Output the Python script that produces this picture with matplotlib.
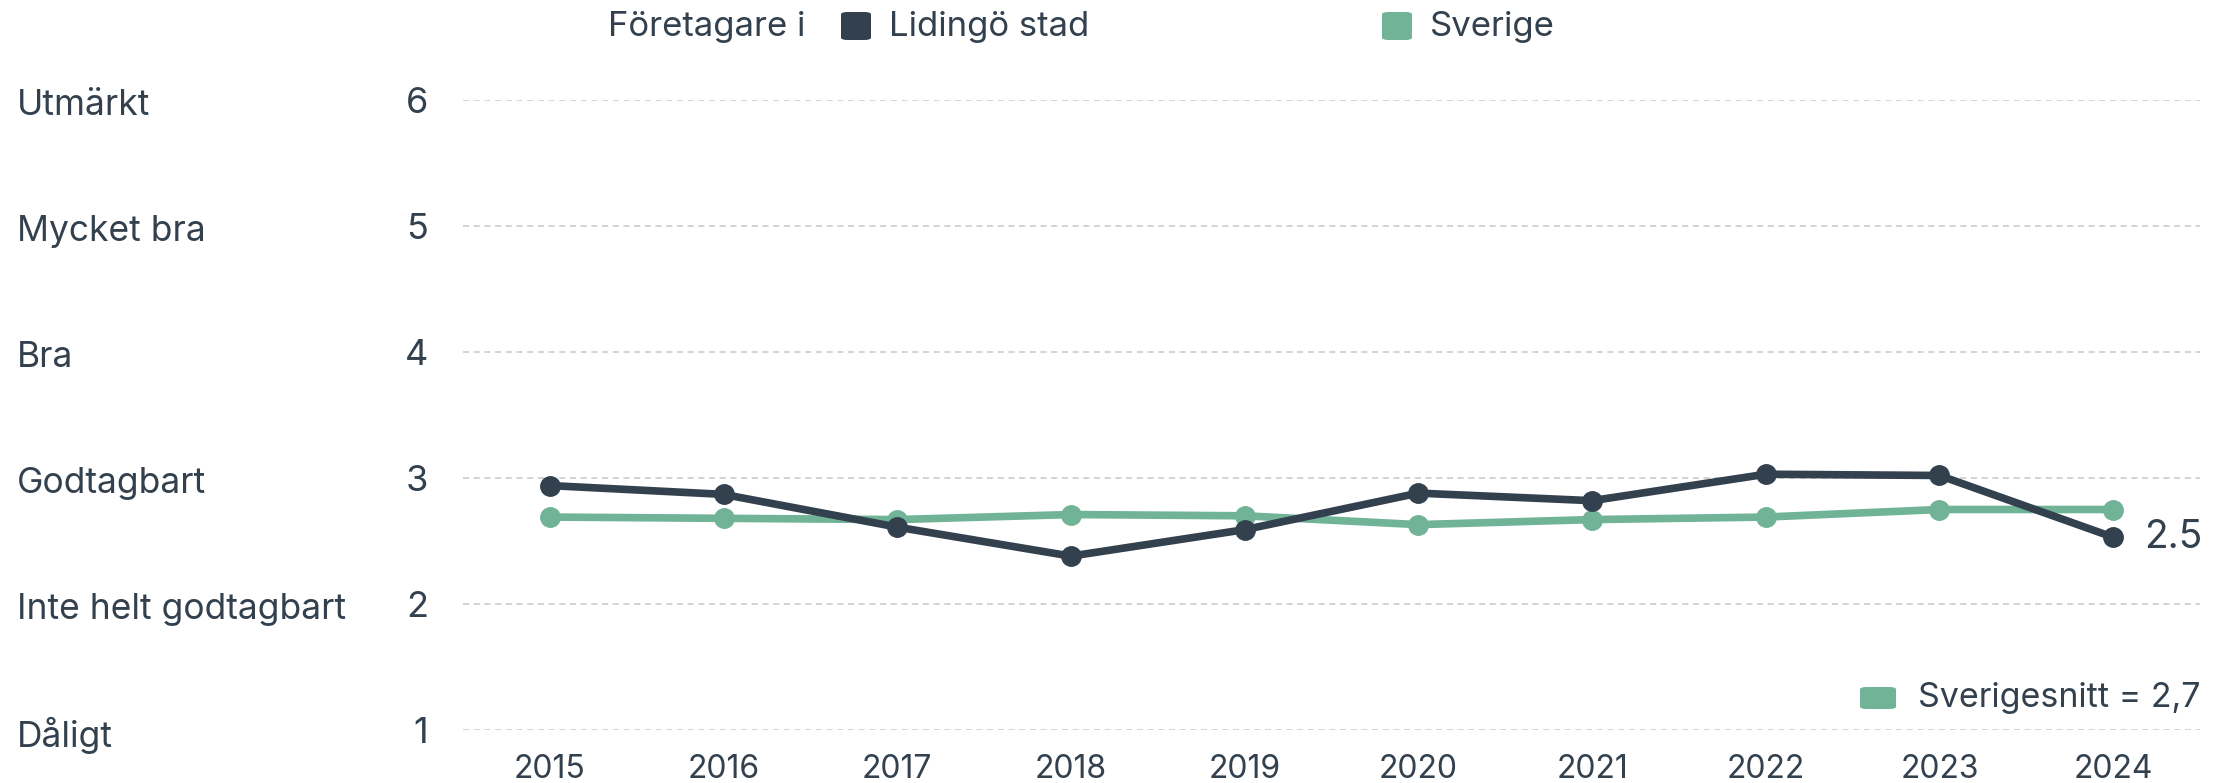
import matplotlib
matplotlib.use('Agg')
import matplotlib.pyplot as plt
from matplotlib.patches import FancyBboxPatch
from matplotlib.transforms import blended_transform_factory

plt.rcParams['font.family'] = ['Inter', 'DejaVu Sans']

years = [2015, 2016, 2017, 2018, 2019, 2020, 2021, 2022, 2023, 2024]
lidingo = [2.94, 2.87, 2.61, 2.38, 2.59, 2.88, 2.82, 3.03, 3.02, 2.53]
sverige = [2.69, 2.68, 2.67, 2.71, 2.70, 2.63, 2.67, 2.69, 2.75, 2.75]
y_ticks = [1, 2, 3, 4, 5, 6]
y_names = ['Dåligt', 'Inte helt godtagbart', 'Godtagbart', 'Bra',
           'Mycket bra', 'Utmärkt']
end_label = '2.5'
avg_label = 'Sverigesnitt = 2,7'

DARK = '#33414f'
GREEN = '#70b396'
TEXT = '#33414f'

W, H = 2227, 783
fig = plt.figure(figsize=(W / 100, H / 100), dpi=100)
ax = fig.add_axes([463 / W, 1 - 730 / H, (2200 - 463) / W, (730 - 100) / H])

ax.plot(years, lidingo, color=DARK, lw=5.5, marker='o', ms=14,
        solid_joinstyle='round', zorder=3, clip_on=False)
ax.plot(years, sverige, color=GREEN, lw=5.5, marker='o', ms=14,
        solid_joinstyle='round', zorder=2, clip_on=False)

ax.set_xlim(2014.5, 2024.5)
ax.set_ylim(1, 6)
ax.set_xticks(years)
ax.set_xticklabels([str(y) for y in years], fontsize=23, color=TEXT)
ax.set_yticks(y_ticks)
ax.set_yticklabels([str(t) for t in y_ticks], fontsize=26, color=TEXT)
ax.tick_params(axis='x', length=0, pad=17)
ax.tick_params(axis='y', length=0, pad=25)
for s in ax.spines.values():
    s.set_visible(False)
ax.grid(axis='y', color='#c8c8c8', lw=1.1, ls=(0, (4, 3)))
ax.set_axisbelow(True)

# category names at far left
lab_tr = blended_transform_factory(fig.transFigure, ax.transData)
for t, name in zip(y_ticks, y_names):
    ax.annotate(name, (17 / W, t), xycoords=lab_tr, xytext=(0, -4),
                textcoords='offset points', fontsize=25.5, color=TEXT,
                ha='left', va='center', annotation_clip=False)

# end value label
ax.annotate(end_label, (years[-1], lidingo[-1]), xytext=(22, 0),
            textcoords='offset points', fontsize=28, color=TEXT,
            ha='left', va='center', annotation_clip=False)

# top legend
fig.text(608 / W, 1 - 27 / H, 'Företagare i', fontsize=25, color=TEXT,
         ha='left', va='center')
for x0, col, lab in [(841, DARK, 'Lidingö stad'), (1382, GREEN, 'Sverige')]:
    fig.patches.append(FancyBboxPatch(
        (x0 / W, 1 - 40 / H), 30 / W, 28 / H,
        boxstyle='round,pad=0,rounding_size=0.003', transform=fig.transFigure,
        facecolor=col, edgecolor='none'))
    fig.text((x0 + 48) / W, 1 - 27 / H, lab, fontsize=25, color=TEXT,
             ha='left', va='center')

# Sverigesnitt box
fig.patches.append(FancyBboxPatch(
    (1860 / W, 1 - 709 / H), 36 / W, 22 / H,
    boxstyle='round,pad=0,rounding_size=0.003', transform=fig.transFigure,
    facecolor=GREEN, edgecolor='none'))
fig.text(2200 / W, 1 - 698 / H, avg_label, fontsize=24.5, color=TEXT,
         ha='right', va='center')

fig.savefig('out.png', dpi=100, facecolor='white')
